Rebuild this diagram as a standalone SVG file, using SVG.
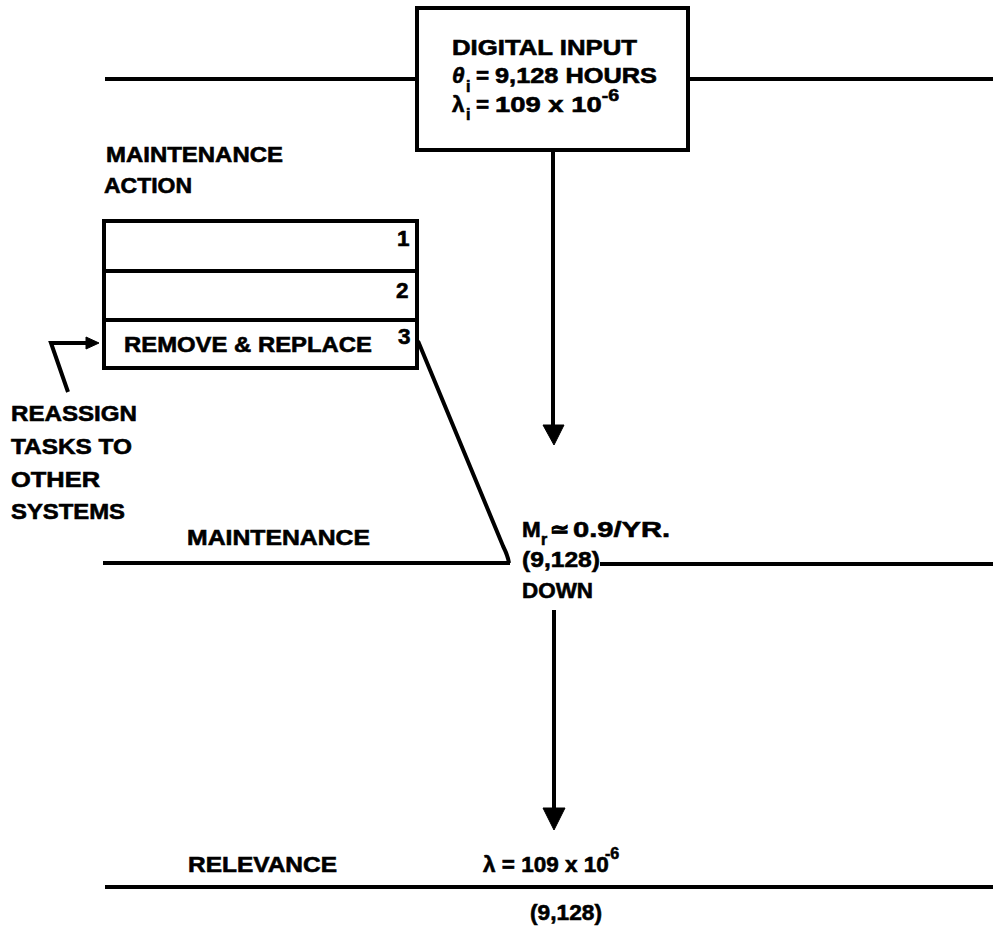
<svg xmlns="http://www.w3.org/2000/svg" width="993" height="942" viewBox="0 0 993 942">
<style>
text{font-family:"Liberation Sans",Arial,sans-serif;font-weight:bold;font-size:22.5px;fill:#000;stroke:#000;stroke-width:0.6}
.sub{font-size:16px}
.sup{font-size:16px}
.ln{stroke:#000;stroke-width:4;fill:none;stroke-linecap:butt}
.bx{stroke:#000;stroke-width:4;fill:#fff}
.ah{fill:#000;stroke:#000;stroke-width:1}
</style>
<rect width="993" height="942" fill="#fff"/>
<g id="connectors">
<line class="ln" x1="105" y1="79" x2="417" y2="79"/>
<line class="ln" x1="688" y1="79" x2="993" y2="79"/>
<line class="ln" x1="553" y1="150" x2="553" y2="428"/>
<polygon class="ah" points="543,425 564,425 554,445"/>
<line class="ln" x1="103" y1="563" x2="510" y2="563"/>
<line class="ln" x1="600" y1="564" x2="993" y2="564"/>
<path class="ln" d="M418,341 L503,546 Q508,556 509,563" stroke-width="3"/>
<line class="ln" x1="554" y1="610" x2="554" y2="812"/>
<polygon class="ah" points="543,808 565,808 554,830"/>
<line class="ln" x1="105" y1="887" x2="993" y2="887"/>
<path class="ln" d="M68,392 L51,343 L88,343" stroke-width="3"/>
<polygon class="ah" points="86,337 99,343 86,349"/>
</g>
<g id="digital-input">
<rect class="bx" x="417" y="8" width="271" height="142"/>
<text x="452" y="55" textLength="185" lengthAdjust="spacingAndGlyphs">DIGITAL INPUT</text>
<text x="452" y="83" font-style="italic">θ</text>
<text class="sub" x="466" y="92">i</text>
<text x="476" y="83">=</text>
<text x="495" y="83" textLength="162" lengthAdjust="spacingAndGlyphs">9,128 HOURS</text>
<text x="452" y="112">λ</text>
<text class="sub" x="466" y="120">i</text>
<text x="476" y="112">=</text>
<text x="495" y="112" textLength="124" lengthAdjust="spacingAndGlyphs">109 x 10<tspan class="sup" dy="-11">-6</tspan></text>
</g>
<g id="maintenance-action-label">
<text x="106" y="162" textLength="177" lengthAdjust="spacingAndGlyphs">MAINTENANCE</text>
<text x="104" y="193" textLength="88" lengthAdjust="spacingAndGlyphs">ACTION</text>
</g>
<g id="maintenance-action-table">
<rect class="bx" x="104" y="221" width="313" height="147" stroke-width="3"/>
<line class="ln" x1="104" y1="271" x2="417" y2="271" stroke-width="3"/>
<line class="ln" x1="104" y1="320" x2="417" y2="320" stroke-width="3"/>
<text x="397" y="246" font-size="20">1</text>
<text x="396" y="298" font-size="20">2</text>
<text x="124" y="352" textLength="248" lengthAdjust="spacingAndGlyphs">REMOVE &amp; REPLACE</text>
<text x="398" y="344" font-size="20">3</text>
</g>
<g id="reassign">
<text x="11" y="421" textLength="126" lengthAdjust="spacingAndGlyphs">REASSIGN</text>
<text x="11" y="454" textLength="121" lengthAdjust="spacingAndGlyphs">TASKS TO</text>
<text x="11" y="487" textLength="89" lengthAdjust="spacingAndGlyphs">OTHER</text>
<text x="11" y="519" textLength="114" lengthAdjust="spacingAndGlyphs">SYSTEMS</text>
</g>
<g id="maintenance">
<text x="187" y="545" textLength="183" lengthAdjust="spacingAndGlyphs">MAINTENANCE</text>
<text x="522" y="537">M</text>
<text class="sub" x="541" y="545">r</text>
<text x="550" y="537">≃</text>
<text x="573" y="537" textLength="97" lengthAdjust="spacingAndGlyphs">0.9/YR.</text>
<text x="522" y="567" textLength="78" lengthAdjust="spacingAndGlyphs">(9,128)</text>
<text x="522" y="598" textLength="71" lengthAdjust="spacingAndGlyphs">DOWN</text>
</g>
<g id="relevance">
<text x="188" y="872" textLength="149" lengthAdjust="spacingAndGlyphs">RELEVANCE</text>
<text x="483" y="872" font-size="20.5">λ = 109 x 10</text>
<text class="sup" x="605" y="859">-6</text>
<text x="530" y="920" textLength="72" lengthAdjust="spacingAndGlyphs">(9,128)</text>
</g>
</svg>
